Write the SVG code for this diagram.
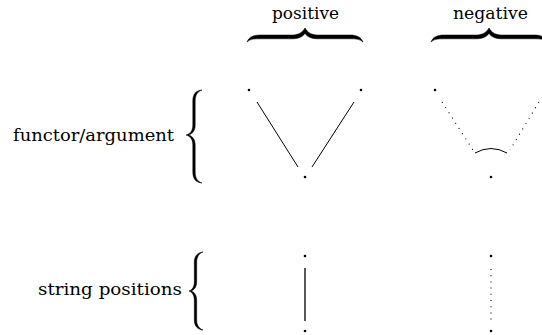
<svg xmlns="http://www.w3.org/2000/svg" width="542" height="335" viewBox="0 0 542 335">
<style>
.t{font-family:"DejaVu Serif","Liberation Serif","Times New Roman",serif;font-size:16px;fill:#000}
.dot{fill:#000}
.ln{stroke:#000;stroke-width:1;fill:none}
.dt{stroke:#000;stroke-width:1.1;fill:none;stroke-dasharray:1 5.2}
.br{fill:#000;stroke:#000;stroke-width:0.5}
</style>
<rect width="542" height="335" fill="#fff"/>
<g id="labels">
<text class="t" x="305.5" y="19" text-anchor="middle" textLength="67" lengthAdjust="spacingAndGlyphs">positive</text>
<text class="t" x="490.5" y="19" text-anchor="middle" textLength="75" lengthAdjust="spacingAndGlyphs">negative</text>
<text class="t" x="13" y="141" textLength="161" lengthAdjust="spacingAndGlyphs">functor/argument</text>
<text class="t" x="38" y="295" textLength="144" lengthAdjust="spacingAndGlyphs">string positions</text>
</g>
<defs>
<path id="hbrace" class="br" d="M247,42 C249,37 253,35 260,35 L292,35 C298,35 302,33 305,28 C308,33 312,35 318,35 L350,35 C357,35 361,37 363,42 C360,39 356,38.8 350,38.8 L318,38.8 C311,38.8 307,36.5 305,33.5 C303,36.5 299,38.8 292,38.8 L260,38.8 C254,38.8 250,39 247,42 Z"/>
</defs>
<g id="braces">
<use href="#hbrace"/>
<use href="#hbrace" transform="translate(184,0)"/>
<path class="br" d="M202,90 C196,90.5 192.8,94 192.8,101 L192.8,125 C192.8,131 190,134 186,135 C190,136 192.8,139 192.8,145 L192.8,172 C192.8,179 196,182.5 202,183 C197.5,181.5 195.2,178 195.2,172 L195.2,145 C195.2,140 193,136.5 189,135 C193,133.5 195.2,130 195.2,125 L195.2,101 C195.2,95 197.5,91.5 202,90 Z"/>
<path class="br" d="M203,252 C197.5,252.5 194.3,256 194.3,262 L194.3,282 C194.3,287 192,290 189,291 C192,292 194.3,295 194.3,300 L194.3,320 C194.3,326 197.5,329.5 203,330 C199,328.5 196.7,325 196.7,320 L196.7,300 C196.7,296 195,292.5 191.5,291 C195,289.5 196.7,286 196.7,282 L196.7,262 C196.7,257 199,253.5 203,252 Z"/>
</g>
<g id="connectors">
<line class="ln" x1="257" y1="102" x2="298" y2="167"/>
<line class="ln" x1="354" y1="102" x2="312" y2="167"/>
<line class="dt" x1="442" y1="102" x2="473" y2="150"/>
<line class="dt" x1="539" y1="102" x2="510" y2="150"/>
<path class="ln" d="M475,153 Q491,144 507,153"/>
<line class="ln" x1="305" y1="268" x2="305" y2="321" style="stroke-width:1.3"/>
<line class="dt" x1="491" y1="269" x2="491" y2="322"/>
</g>
<g id="n-pos-left"><circle class="dot" cx="249" cy="90" r="1.3"/></g>
<g id="n-pos-right"><circle class="dot" cx="361" cy="90" r="1.3"/></g>
<g id="n-pos-bottom"><circle class="dot" cx="305" cy="177" r="1.3"/></g>
<g id="n-neg-left"><circle class="dot" cx="435" cy="90" r="1.3"/></g>
<g id="n-neg-bottom"><circle class="dot" cx="491" cy="177" r="1.3"/></g>
<g id="n-sp-pos-top"><circle class="dot" cx="305" cy="256" r="1.3"/></g>
<g id="n-sp-pos-bottom"><circle class="dot" cx="305" cy="331" r="1.3"/></g>
<g id="n-sp-neg-top"><circle class="dot" cx="491" cy="256" r="1.3"/></g>
<g id="n-sp-neg-bottom"><circle class="dot" cx="491" cy="331" r="1.3"/></g>
</svg>
